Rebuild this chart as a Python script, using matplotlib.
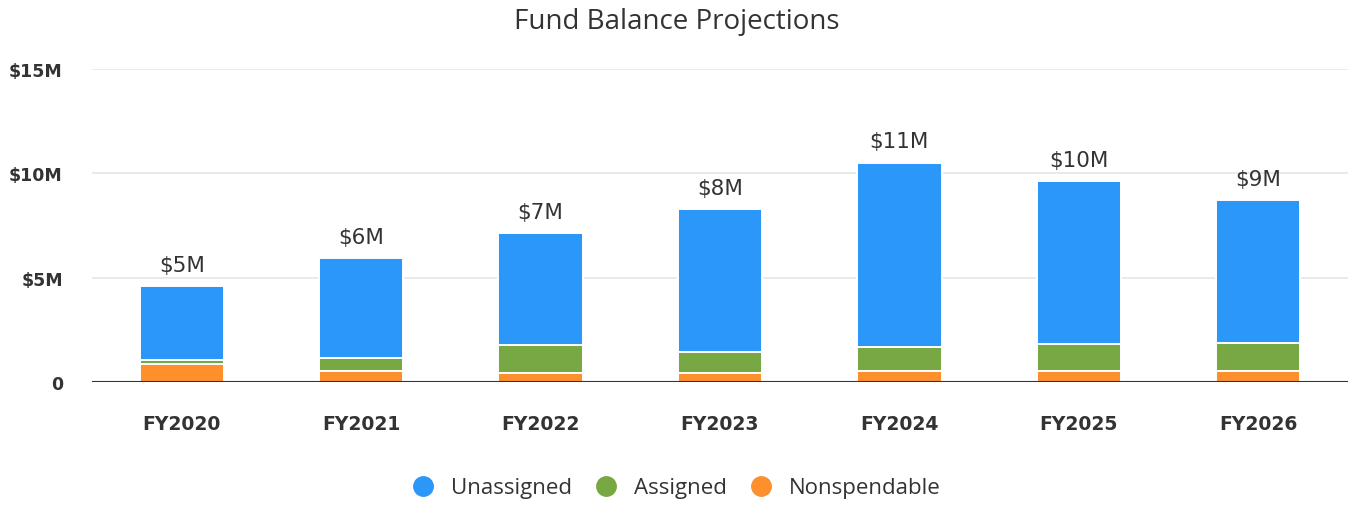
import matplotlib
matplotlib.use("Agg")
import matplotlib.pyplot as plt
from matplotlib.lines import Line2D
import numpy as np

categories = ["FY2020", "FY2021", "FY2022", "FY2023", "FY2024", "FY2025", "FY2026"]
nonspendable = [0.88, 0.54, 0.45, 0.45, 0.53, 0.53, 0.53]
assigned = [0.18, 0.62, 1.33, 0.98, 1.17, 1.27, 1.36]
unassigned = [3.54, 4.79, 5.35, 6.86, 8.81, 7.82, 6.83]
y_ticks = [0, 5, 10, 15]
y_tick_labels = ["0", "$5M", "$10M", "$15M"]
series_names = ["Unassigned", "Assigned", "Nonspendable"]
colors = {"Unassigned": "#2B98F9", "Assigned": "#77A843", "Nonspendable": "#FD8F2C"}

W, H = 1353, 506
fig = plt.figure(figsize=(W / 100, H / 100), dpi=100)
ax = fig.add_axes([92 / W, (H - 383) / H, (1348 - 92) / W, (383 - 70) / H])

x = np.arange(len(categories))
bw = 0.47
n = np.array(nonspendable)
a = np.array(assigned)
u = np.array(unassigned)

ax.bar(x, n, bw, color=colors["Nonspendable"], edgecolor="white", linewidth=1.4, zorder=3)
ax.bar(x, a, bw, bottom=n, color=colors["Assigned"], edgecolor="white", linewidth=1.4, zorder=3)
ax.bar(x, u, bw, bottom=n + a, color=colors["Unassigned"], edgecolor="white", linewidth=1.4, zorder=3)

totals = n + a + u
for xi, t in zip(x, totals):
    ax.annotate(f"${int(round(t))}M", (xi, t), xytext=(0, 11), textcoords="offset points",
                ha="center", va="baseline", fontsize=15.5, color="#333333",
                family="DejaVu Sans", zorder=5)

ax.set_xlim(-0.5, len(categories) - 0.5)
ax.set_ylim(0, 15)
ax.set_yticks(y_ticks)
ax.set_yticklabels(y_tick_labels, fontsize=12.5, fontweight="bold", color="#333333", family="DejaVu Sans")
ax.set_xticks(x)
ax.set_xticklabels(categories, fontsize=13.5, fontweight="bold", color="#333333", family="DejaVu Sans")
ax.tick_params(axis="y", length=0, pad=21)
ax.tick_params(axis="x", length=0, pad=23)
ax.grid(axis="y", color="#e6e6e6", linewidth=1.2, zorder=0)
ax.set_axisbelow(True)
for s in ax.spines.values():
    s.set_visible(False)
ax.axhline(0, color="#333333", linewidth=1.5, zorder=4)

fig.text(0.5, (H - 22) / H, "Fund Balance Projections", ha="center", va="center",
         fontsize=20, color="#333333", family="Open Sans")

handles = [Line2D([], [], marker="o", linestyle="none", markersize=14,
                  markerfacecolor=colors[s], markeredgecolor=colors[s]) for s in series_names]
fig.legend(handles, series_names, loc="center", bbox_to_anchor=(0.5, (H - 489) / H),
           ncol=3, frameon=False, prop={"family": "Open Sans", "size": 16},
           labelcolor="#333333", handletextpad=0.75, columnspacing=1.05, handlelength=1.0)

fig.savefig("out.png", dpi=100)
